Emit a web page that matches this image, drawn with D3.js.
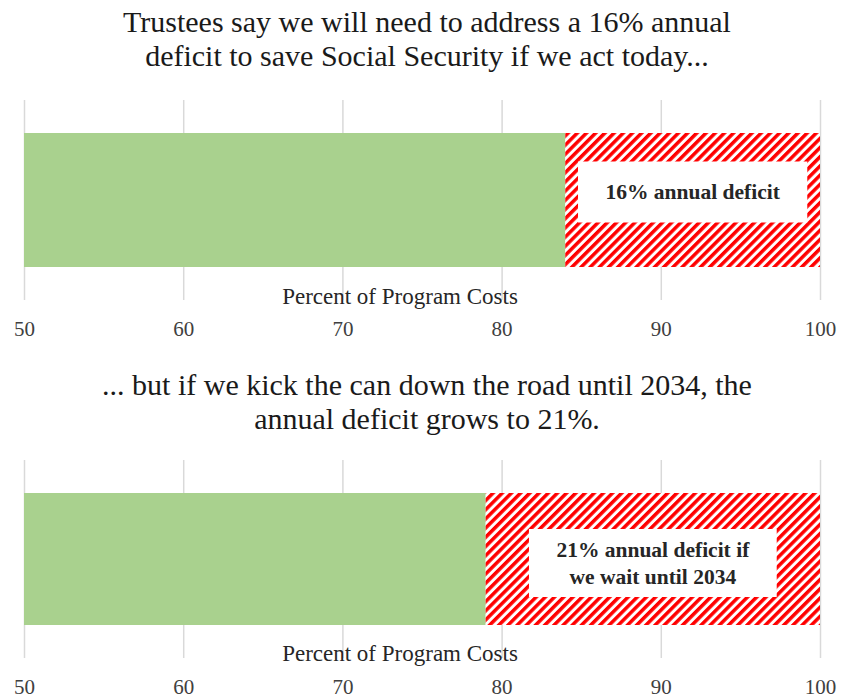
<!DOCTYPE html>
<html lang="en">
<head>
  <meta charset="UTF-8">
  <title>Social Security deficit</title>
  <style>
    body { margin: 0; background: #fff; }
    text { font-family: "Liberation Serif", "DejaVu Serif", serif; }
  </style>
</head>
<body>
<svg id="chart" width="854" height="700"></svg>

<script src="https://cdnjs.cloudflare.com/ajax/libs/d3/7.8.5/d3.min.js"></script>
<script>
// data
var tickValues = [50, 60, 70, 80, 90, 100];
var axisTitle = "Percent of Program Costs";
var panelTitles = [
  ["Trustees say we will need to address a 16% annual",
   "deficit to save Social Security if we act today..."],
  ["... but if we kick the can down the road until 2034, the",
   "annual deficit grows to 21%."]
];
var fundedPct = [84, 79];   // green part
var deficitLabels = [
  ["16% annual deficit"],
  ["21% annual deficit if", "we wait until 2034"]
];

var svg = d3.select("#chart");

var x = d3.scaleLinear().domain([50, 100]).range([24, 820]);

// red stripes
svg.append("defs").append("pattern")
    .attr("id", "hatch")
    .attr("patternUnits", "userSpaceOnUse")
    .attr("width", 6.5)
    .attr("height", 6.5)
    .attr("patternTransform", "rotate(45)")
  .call(function (p) {
    p.append("rect").attr("width", 6.5).attr("height", 6.5).attr("fill", "#fff");
    p.append("rect").attr("width", 3.5).attr("height", 6.5).attr("fill", "#ff0000");
  });

// where each panel sits (y offsets)
var panels = [
  { titleY: 32, gridTop: 100, gridBot: 300, barTop: 133, barBot: 267, axTitleY: 304, tickY: 338 },
  { titleY: 395, gridTop: 460, gridBot: 658, barTop: 493, barBot: 625, axTitleY: 661, tickY: 696 }
];

panels.forEach(function (p, i) {
  var g = svg.append("g");

  // title
  var t = g.append("text")
    .attr("x", 427)
    .attr("y", p.titleY)
    .attr("text-anchor", "middle")
    .attr("font-size", 30)
    .attr("fill", "#1a1a1a");
  panelTitles[i].forEach(function (line, k) {
    t.append("tspan").attr("x", 427).attr("dy", k == 0 ? 0 : 34).text(line);
  });

  // gridlines
  g.append("g")
    .attr("transform", "translate(0," + p.gridBot + ")")
    .call(d3.axisBottom(x).tickValues(tickValues).tickSize(-(p.gridBot - p.gridTop)).tickFormat(""))
    .call(function (a) {
      a.select(".domain").remove();
      a.selectAll("line").attr("stroke", "#d9d9d9").attr("stroke-width", 1.5);
    });

  // bars
  var h = p.barBot - p.barTop;
  g.append("rect")
    .attr("x", x(50)).attr("y", p.barTop)
    .attr("width", x(fundedPct[i]) - x(50)).attr("height", h)
    .attr("fill", "#a9d18e");
  g.append("rect")
    .attr("x", x(fundedPct[i])).attr("y", p.barTop)
    .attr("width", x(100) - x(fundedPct[i])).attr("height", h)
    .attr("fill", "url(#hatch)");

  // label box
  var lines = deficitLabels[i];
  var cx = (x(fundedPct[i]) + x(100)) / 2;
  var cy = (p.barTop + p.barBot) / 2 - 8 + i * 12;
  var box = g.append("rect").attr("fill", "#fff");
  var lt = g.append("text")
    .attr("text-anchor", "middle")
    .attr("font-size", 21.5)
    .attr("font-weight", "bold")
    .attr("fill", "#262626");
  lines.forEach(function (line, k) {
    lt.append("tspan")
      .attr("x", cx)
      .attr("y", cy + 7 + (k - (lines.length - 1) / 2) * 27)
      .text(line);
  });
  var bb = lt.node().getBBox();
  var bw = bb.width + 54, bh = 54 + 7 * lines.length;
  box.attr("x", cx - bw / 2).attr("y", cy - bh / 2)
    .attr("width", bw).attr("height", bh);

  // axis title
  g.append("text")
    .attr("x", 400).attr("y", p.axTitleY)
    .attr("text-anchor", "middle")
    .attr("font-size", 23)
    .attr("fill", "#262626")
    .text(axisTitle);

  // tick labels
  g.append("g")
    .attr("transform", "translate(0," + (p.tickY - 17) + ")")
    .call(d3.axisBottom(x).tickValues(tickValues).tickSize(0).tickPadding(0))
    .call(function (a) {
      a.select(".domain").remove();
      a.selectAll("text")
        .attr("font-size", 21)
        .attr("fill", "#404040")
        .attr("font-family", "Liberation Serif, serif");
    });
});
</script>
</body>
</html>
